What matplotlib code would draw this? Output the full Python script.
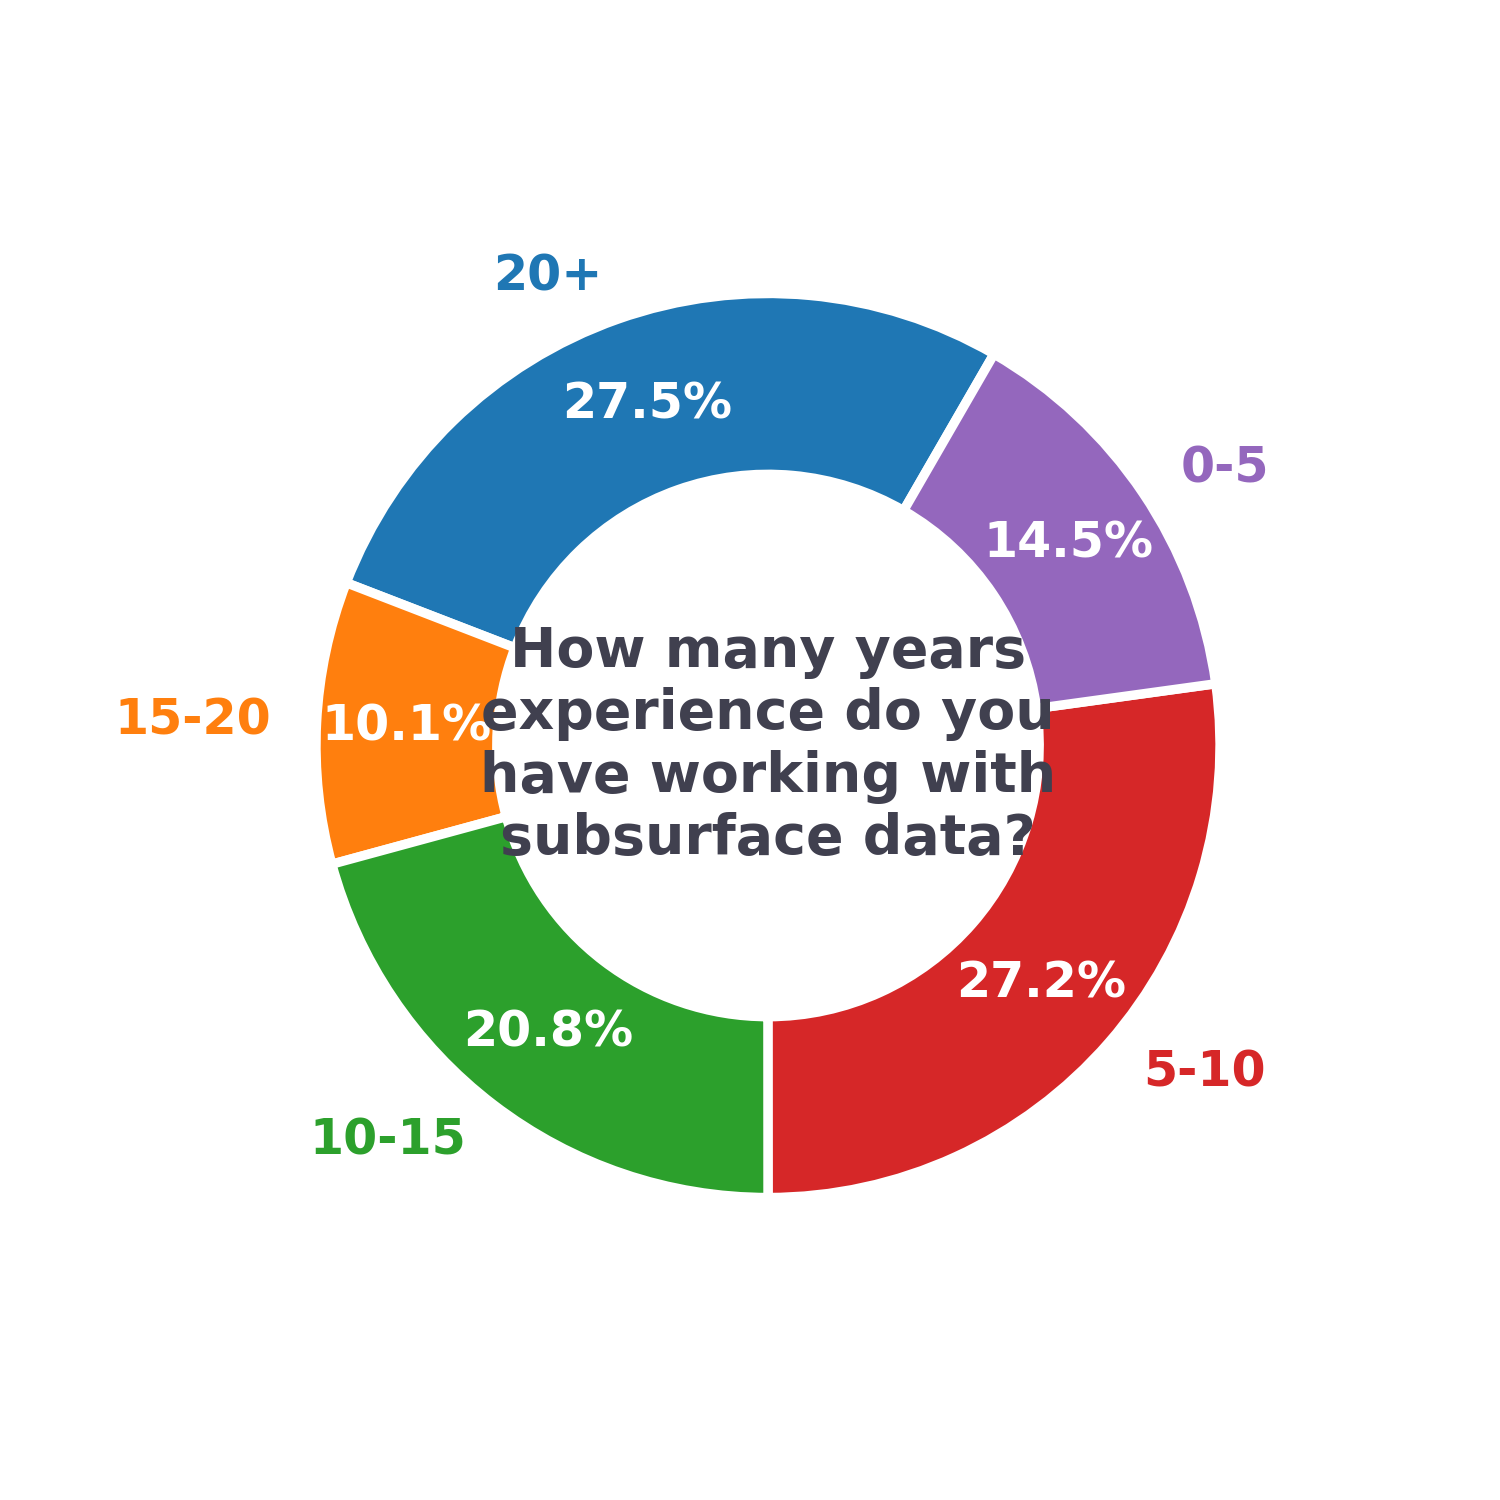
import matplotlib.pyplot as plt

labels = ["20+", "15-20", "10-15", "5-10", "0-5"]
shares = [27.5, 10.1, 20.8, 27.2, 14.5]
colors = ["#1f77b4", "#ff7f0e", "#2ca02c", "#d62728", "#9467bd"]
question = "How many years\nexperience do you\nhave working with\nsubsurface data?"

fig = plt.figure(figsize=(10, 10), dpi=150)
ax = fig.add_axes([0.060, 0.051, 0.904, 0.904])

wedges, texts, autotexts = ax.pie(
    shares,
    labels=labels,
    colors=colors,
    startangle=60,
    autopct="%1.1f%%",
    pctdistance=0.8,
    labeldistance=1.1,
    wedgeprops=dict(width=0.4, edgecolor="white", linewidth=4.5),
    textprops=dict(fontsize=23.5, fontweight="bold"),
)
for t, c in zip(texts, colors):
    t.set_color(c)
for t in autotexts:
    t.set_color("white")

ax.text(0, 0, question, ha="center", va="center", fontsize=26.6,
        fontweight="bold", color="#40404f", zorder=10)

ax.set_xlim(-1.5, 1.5)
ax.set_ylim(-1.5, 1.5)
ax.set_aspect("equal")
ax.axis("off")

fig.savefig("out.png", dpi=150)
